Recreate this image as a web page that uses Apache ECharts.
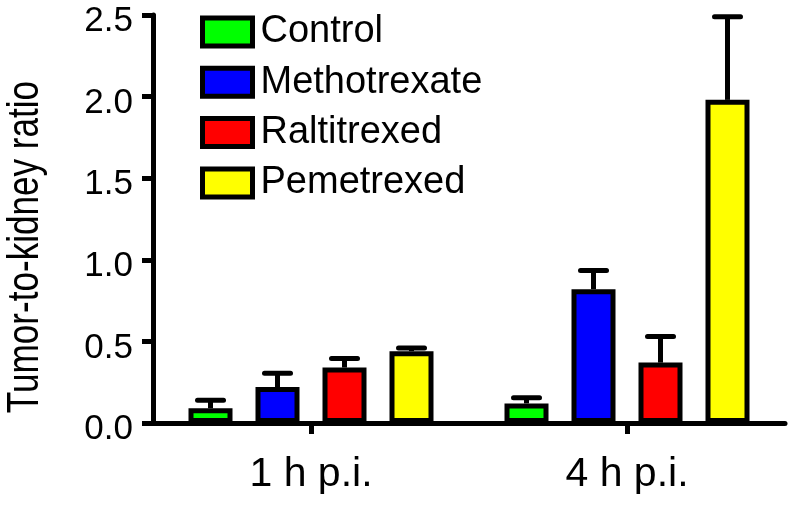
<!DOCTYPE html>
<html>
<head>
<meta charset="utf-8">
<script src="https://cdn.jsdelivr.net/npm/echarts@6/dist/echarts.min.js"></script>
<style>html,body{margin:0;padding:0;background:#fff}#c{width:796px;height:508px}</style>
</head>
<body>
<div id="c"></div>
<script>
const categories = ['1 h p.i.', '4 h p.i.'];
const seriesNames = ['Control', 'Methotrexate', 'Raltitrexed', 'Pemetrexed'];
const seriesColors = ['#00ff00', '#0000ff', '#ff0000', '#ffff00'];
const controlMean = [0.09, 0.12];
const controlErr = [0.05, 0.035];
const methotrexateMean = [0.22, 0.82];
const methotrexateErr = [0.085, 0.115];
const raltitrexedMean = [0.34, 0.37];
const raltitrexedErr = [0.055, 0.16];
const pemetrexedMean = [0.44, 1.98];
const pemetrexedErr = [0.02, 0.51];
const yTicks = { min: 0, max: 2.5, interval: 0.5 };

const means = [controlMean, methotrexateMean, raltitrexedMean, pemetrexedMean];
const errs = [controlErr, methotrexateErr, raltitrexedErr, pemetrexedErr];

const FONT = "'Liberation Sans', Arial, sans-serif";
const BAR_W = 44;
const BAR_GAP = 23;
const LW = 5;

const chart = echarts.init(document.getElementById('c'), null, { renderer: 'canvas' });

const series = [];
seriesNames.forEach((name, i) => {
  series.push({
    name: name,
    type: 'bar',
    data: means[i],
    barWidth: BAR_W,
    barGap: (BAR_GAP / BAR_W * 100) + '%',
    itemStyle: { color: seriesColors[i], borderColor: '#000', borderWidth: LW },
    z: 3,
    emphasis: { disabled: true }
  });
});
seriesNames.forEach((name, i) => {
  const offset = (i - (seriesNames.length - 1) / 2) * (BAR_W + BAR_GAP);
  series.push({
    type: 'custom',
    z: 2,
    silent: true,
    data: means[i].map((m, k) => [k, m, errs[i][k]]),
    renderItem: function (params, api) {
      const k = api.value(0), m = api.value(1), e = api.value(2);
      const p0 = api.coord([k, m]);
      const p1 = api.coord([k, m + e]);
      const x = p0[0] + offset;
      const half = 13;
      return {
        type: 'group',
        children: [
          { type: 'line', shape: { x1: x, y1: p0[1], x2: x, y2: p1[1] },
            style: { stroke: '#000', lineWidth: LW } },
          { type: 'line', shape: { x1: x - half, y1: p1[1], x2: x + half, y2: p1[1] },
            style: { stroke: '#000', lineWidth: LW, lineCap: 'round' } }
        ]
      };
    }
  });
});

chart.setOption({
  animation: false,
  backgroundColor: '#fff',
  grid: { left: 153, right: 11, top: 15, bottom: 85 },
  legend: {
    data: seriesNames,
    orient: 'vertical',
    left: 200,
    top: 13,
    padding: 0,
    itemWidth: 50,
    itemHeight: 28,
    itemGap: 12.3,
    icon: 'rect',
    selectedMode: false,
    itemStyle: { borderColor: '#000', borderWidth: LW },
    textStyle: { fontFamily: FONT, fontSize: 38, color: '#000', padding: [0, 0, 0, 3] }
  },
  xAxis: {
    type: 'category',
    data: categories,
    axisLine: { show: true, lineStyle: { color: '#000', width: LW } },
    axisTick: { show: true, alignWithLabel: true, length: 11, lineStyle: { color: '#000', width: LW } },
    axisLabel: { fontFamily: FONT, fontSize: 41, color: '#000', margin: 31 },
    splitLine: { show: false }
  },
  yAxis: {
    type: 'value',
    min: yTicks.min,
    max: yTicks.max,
    interval: yTicks.interval,
    axisLine: { show: true, lineStyle: { color: '#000', width: LW } },
    axisTick: { show: true, length: 11, lineStyle: { color: '#000', width: LW } },
    axisLabel: { fontFamily: FONT, fontSize: 35, color: '#000', margin: 20,
      verticalAlign: 'top', lineHeight: 13,
      formatter: v => v.toFixed(1) },
    splitLine: { show: false }
  },
  graphic: [{
    type: 'text',
    x: 26,
    y: 247,
    rotation: Math.PI / 2,
    scaleX: 0.78,
    style: {
      text: 'Tumor-to-kidney ratio',
      fontFamily: FONT,
      fontSize: 45,
      fill: '#000',
      align: 'center',
      verticalAlign: 'middle'
    }
  }],
  series: series
});
</script>
</body>
</html>
